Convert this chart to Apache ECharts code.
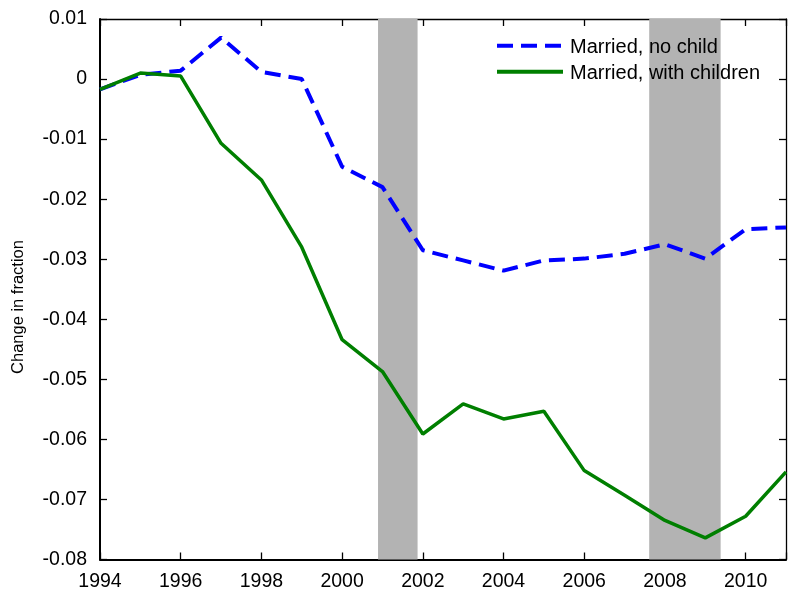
<!DOCTYPE html>
<html>
<head>
<meta charset="utf-8">
<script src="https://cdn.jsdelivr.net/npm/echarts@6/dist/echarts.min.js"></script>
<style>
html,body{margin:0;padding:0;background:#fff;}
#chart{width:795px;height:592px;}
</style>
</head>
<body>
<div id="chart"></div>
<script>
const years = [1994,1995,1996,1997,1998,1999,2000,2001,2002,2003,2004,2005,2006,2007,2008,2009,2010,2011];
const noChild = [-0.0017,0.0007,0.0014,0.0069,0.0012,0.0000,-0.0146,-0.0180,-0.0285,-0.0302,-0.0319,-0.0302,-0.0299,-0.0291,-0.0275,-0.0299,-0.0250,-0.0247];
const withChildren = [-0.0017,0.0010,0.0005,-0.0107,-0.0168,-0.0280,-0.0434,-0.0487,-0.0591,-0.0541,-0.0566,-0.0553,-0.0652,-0.0693,-0.0735,-0.0764,-0.0728,-0.0654];
const recessionStarts = [2000.89, 2007.61];
const recessionEnds = [2001.87, 2009.38];
const seriesNames = ['Married, no child', 'Married, with children'];
const yAxisTitle = 'Change in fraction';

const FONT = 'Liberation Sans, Arial, sans-serif';
const BLUE = '#0000ff', GREEN = '#007f00';
const chart = echarts.init(document.getElementById('chart'), null, {renderer: 'canvas'});

const pairs = (xs, ys) => xs.map((x, i) => [x, ys[i]]);
const fmtY = v => { const r = Math.round(v * 100) / 100; return r === 0 ? '0' : String(r); };

// legend key lines (layout only)
const keyX1 = 497, keyX2 = 563, keyY = [45.7, 71.7];

const option = {
  animation: false,
  backgroundColor: '#ffffff',
  grid: {left: 100, top: 19, right: 9, bottom: 32.5, containLabel: false},
  legend: {
    left: 494, top: 32, orient: 'vertical', padding: 5,
    itemWidth: 66, itemHeight: 14, itemGap: 6,
    textStyle: {fontFamily: FONT, fontSize: 20, color: '#000'},
    data: [{name: seriesNames[0], icon: 'none'}, {name: seriesNames[1], icon: 'none'}]
  },
  xAxis: [
    {
      type: 'value', min: 1994, max: 2011, interval: 2, position: 'bottom',
      axisLine: {show: true, onZero: false, lineStyle: {color: '#000', width: 2}},
      axisTick: {show: true, inside: true, length: 7, lineStyle: {color: '#000', width: 1.3}},
      axisLabel: {show: true, margin: 12, fontFamily: FONT, fontSize: 19.5, color: '#000',
        formatter: v => (v >= 2011 ? '' : String(v))},
      splitLine: {show: false}
    },
    {
      type: 'value', min: 1994, max: 2011, interval: 2, position: 'top',
      axisLine: {show: true, onZero: false, lineStyle: {color: '#000', width: 1.3}},
      axisTick: {show: true, inside: true, length: 7, lineStyle: {color: '#000', width: 1.3}},
      axisLabel: {show: false}, splitLine: {show: false}
    }
  ],
  yAxis: [
    {
      type: 'value', min: -0.08, max: 0.01, interval: 0.01, position: 'left',
      axisLine: {show: true, onZero: false, lineStyle: {color: '#000', width: 2}},
      axisTick: {show: true, inside: true, length: 7, lineStyle: {color: '#000', width: 1.3}},
      axisLabel: {show: true, margin: 13, fontFamily: FONT, fontSize: 19.5, color: '#000', formatter: fmtY},
      splitLine: {show: false}
    },
    {
      type: 'value', min: -0.08, max: 0.01, interval: 0.01, position: 'right',
      axisLine: {show: true, onZero: false, lineStyle: {color: '#000', width: 1.3}},
      axisTick: {show: true, inside: true, length: 7, lineStyle: {color: '#000', width: 1.3}},
      axisLabel: {show: false}, splitLine: {show: false}
    }
  ],
  graphic: [
    {
      type: 'text', x: 18, y: 307, rotation: Math.PI / 2,
      style: {text: yAxisTitle, fontFamily: FONT, fontSize: 16.5, fill: '#000', align: 'center', verticalAlign: 'middle'}
    },
    {
      type: 'line', z: 10,
      shape: {x1: keyX1, y1: keyY[0], x2: keyX2, y2: keyY[0]},
      style: {stroke: BLUE, lineWidth: 4, lineDash: [16, 8], lineCap: 'butt'}
    },
    {
      type: 'line', z: 10,
      shape: {x1: keyX1, y1: keyY[1], x2: keyX2, y2: keyY[1]},
      style: {stroke: GREEN, lineWidth: 4, lineCap: 'butt'}
    }
  ],
  series: [
    {
      name: 'recessions', type: 'line', data: [], z: 1, silent: true,
      markArea: {
        silent: true,
        itemStyle: {color: '#b3b3b3', opacity: 1},
        data: recessionStarts.map((s, i) => [{xAxis: s, yAxis: -0.08}, {xAxis: recessionEnds[i], yAxis: 0.01}])
      }
    },
    {
      name: seriesNames[0], type: 'line', z: 3, showSymbol: false, symbol: 'none',
      data: pairs(years, noChild),
      lineStyle: {color: BLUE, width: 4, type: [16, 8], cap: 'butt'},
      itemStyle: {color: BLUE}
    },
    {
      name: seriesNames[1], type: 'line', z: 3, showSymbol: false, symbol: 'none',
      data: pairs(years, withChildren),
      lineStyle: {color: GREEN, width: 3.5, type: 'solid'},
      itemStyle: {color: GREEN}
    }
  ]
};
chart.setOption(option);
</script>
</body>
</html>
